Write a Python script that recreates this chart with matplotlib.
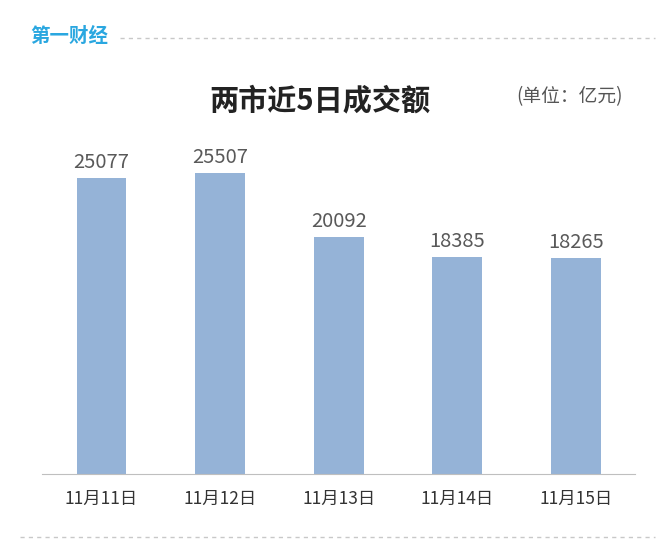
import matplotlib
matplotlib.use('Agg')
import matplotlib.pyplot as plt

plt.rcParams['font.family'] = ['Noto Sans CJK SC', 'DejaVu Sans']

dates = ['11月11日', '11月12日', '11月13日', '11月14日', '11月15日']
amounts = [25077, 25507, 20092, 18385, 18265]

fig = plt.figure(figsize=(6.7, 5.56), dpi=100)
ax = fig.add_axes([0.063, 0.147, 0.885, 0.60])

ax.bar(range(len(dates)), amounts, width=0.42, color='#95b3d7')
for i, v in enumerate(amounts):
    ax.text(i, v + 400, str(v), ha='center', va='bottom', fontsize=14.5, color='#595959')

ax.set_xlim(-0.5, len(dates) - 0.5)
ax.set_ylim(0, 28200)
ax.set_yticks([])
ax.set_xticks(range(len(dates)))
ax.set_xticklabels(dates, fontsize=12.5, color='#333333')
ax.tick_params(axis='x', length=0, pad=11)
for s in ['top', 'right', 'left']:
    ax.spines[s].set_visible(False)
ax.spines['bottom'].set_color('#bfbfbf')

# header
fig.text(0.478, 1 - 100 / 556, '两市近5日成交额', ha='center', va='center',
         fontsize=21, fontweight='bold', color='#222222')
fig.text(0.85, 1 - 97 / 556, '(单位：亿元)', ha='center', va='center',
         fontsize=13.5, color='#555555')
fig.text(0.045, 1 - 36 / 556, '第一财经', ha='left', va='center',
         fontsize=14, fontweight='bold', color='#2aa7e0')
fig.add_artist(plt.Line2D([120 / 670, 655 / 670], [1 - 38 / 556] * 2,
                          color='#c8c8c8', lw=1, ls=(0, (3, 3))))
fig.add_artist(plt.Line2D([20 / 670, 655 / 670], [1 - 537 / 556] * 2,
                          color='#c8c8c8', lw=1, ls=(0, (3, 3))))

fig.savefig('out.png', dpi=100, facecolor='white')
